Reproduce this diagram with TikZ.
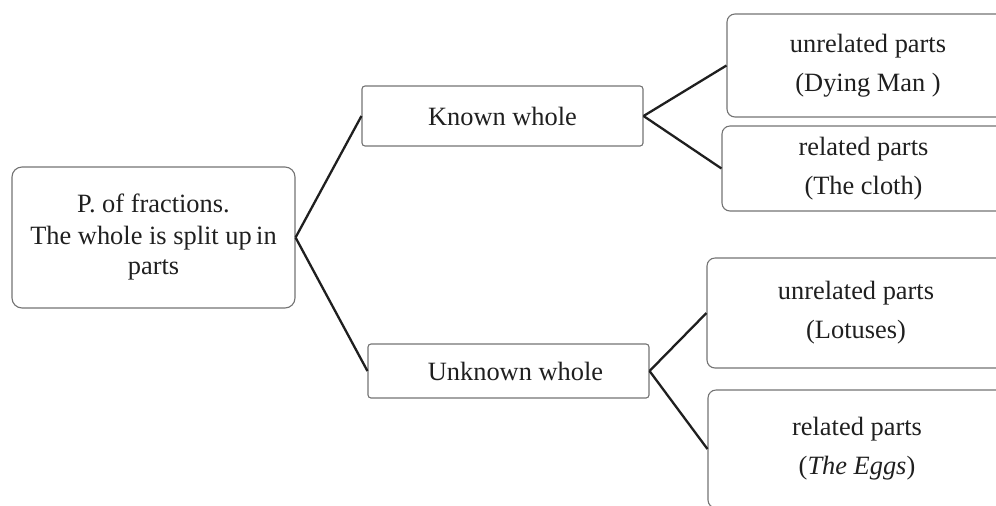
\documentclass[tikz,border=0pt]{standalone}
\usepackage{fontspec}
\setmainfont{Liberation Serif}
\begin{document}
\begin{tikzpicture}[x=0.5pt,y=-0.5pt,
  box/.style={draw=black!55, line width=0.55pt, align=center, inner sep=0pt, text=black!88,
    font=\fontsize{13.2}{19.5}\selectfont},
  conn/.style={draw=black!88, line width=1.15pt}]
\useasboundingbox (0,0) rectangle (996,505);
\clip (0,0) rectangle (996,505);
\node[box, rounded corners=5pt, minimum width=141.5pt, minimum height=70.5pt,
  font=\fontsize{13.2}{15}\selectfont] (root) at (153.5,237.5)
  {P. of fractions.\\[1pt] The whole is split up\,in\\ parts};
\node[box, rounded corners=1.5pt, minimum width=140.5pt, minimum height=30pt] (known) at (502.5,116) {Known whole};
\node[box, rounded corners=1.5pt, minimum width=140.5pt, minimum height=27pt] (unknown) at (508.5,371) {\hspace{7pt}Unknown whole};
\node[box, rounded corners=4pt, minimum width=141pt, minimum height=51.5pt] (b1) at (868,65.5) {unrelated parts\\(Dying Man )};
\node[box, rounded corners=4pt, minimum width=141.5pt, minimum height=42.5pt] (b2) at (863.5,168.5) {related parts\\(The cloth)};
\node[box, rounded corners=4pt, minimum width=149pt, minimum height=55pt] (b3) at (856,313) {unrelated parts\\(Lotuses)};
\node[box, rounded corners=4pt, minimum width=149pt, minimum height=59pt] (b4) at (857,449) {related parts\\(\textit{The Eggs})};
\draw[conn] (root.east) -- (known.west);
\draw[conn] (root.east) -- (unknown.west);
\draw[conn] (known.east) -- (b1.west);
\draw[conn] (known.east) -- (b2.west);
\draw[conn] (unknown.east) -- (b3.west);
\draw[conn] (unknown.east) -- (b4.west);
\end{tikzpicture}
\end{document}
